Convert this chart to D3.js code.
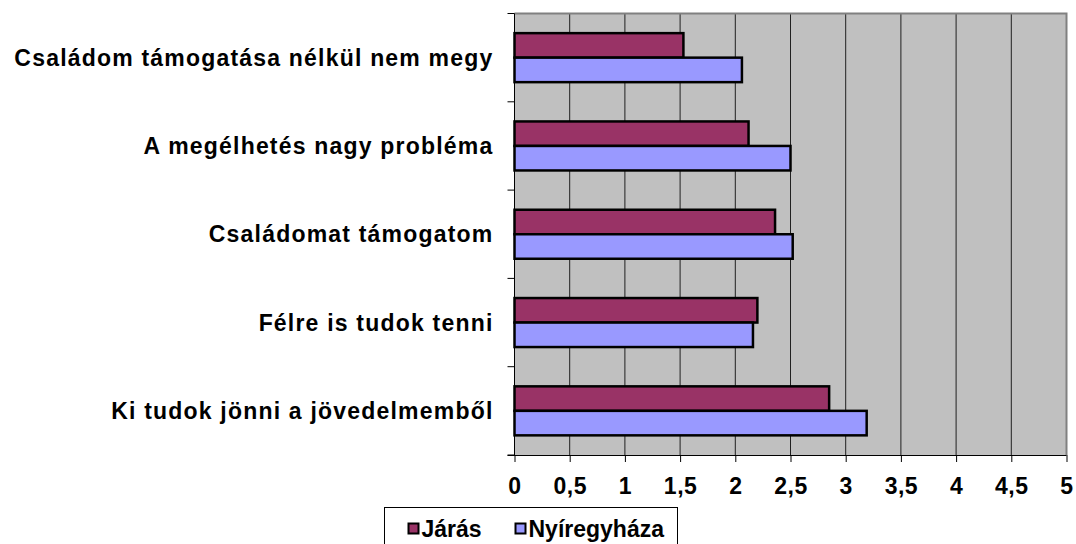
<!DOCTYPE html>
<html>
<head>
<meta charset="utf-8">
<script src="https://cdn.jsdelivr.net/npm/d3@7"></script>
<style>
  body { margin: 0; background: #fff; }
  text { font-family: "Liberation Sans", Arial, sans-serif; font-weight: bold; }
</style>
</head>
<body>
<div id="chart"></div>
<script>
// adatok
const kategoriak = [
  "Családom támogatása nélkül nem megy",
  "A megélhetés nagy probléma",
  "Családomat támogatom",
  "Félre is tudok tenni",
  "Ki tudok jönni a jövedelmemből"
]
const sorozatok = ["Járás", "Nyíregyháza"]
const jarasErtekek = [1.53, 2.12, 2.36, 2.20, 2.85]
const nyiregyhazaErtekek = [2.06, 2.50, 2.52, 2.16, 3.19]
const xTickek = [0, 0.5, 1, 1.5, 2, 2.5, 3, 3.5, 4, 4.5, 5]
const szinek = ["#993366", "#9999FF"]

const dataset = kategoriak.map((k, i) => ({
  kategoria: k,
  ertekek: [jarasErtekek[i], nyiregyhazaErtekek[i]]
}))

// dimenziok
const dim = {
  sirina: 1076,
  visina: 544,
  margine: { top: 13.5, right: 10, bottom: 89, left: 514.5 }
}
dim.grSirina = 1066.5 - dim.margine.left
dim.grVisina = 455 - dim.margine.top

const svg = d3.select("#chart").append("svg")
  .attr("width", dim.sirina)
  .attr("height", dim.visina)

const g = svg.append("g")
  .attr("transform", `translate(${dim.margine.left},${dim.margine.top})`)

// skale
const xSkala = d3.scaleLinear().domain([0, 5]).range([0, dim.grSirina])
const ySkala = d3.scaleBand().domain(kategoriak).range([0, dim.grVisina])
const ySub = d3.scaleBand().domain(sorozatok)
  .range([0, ySkala.bandwidth() * 0.555])

// pozadina
g.append("rect")
  .attr("width", dim.grSirina)
  .attr("height", dim.grVisina)
  .attr("fill", "#C0C0C0")

// mreza
g.selectAll(".grid")
  .data(xTickek.slice(1, -1))
  .join("line")
    .attr("x1", d => xSkala(d)).attr("x2", d => xSkala(d))
    .attr("y1", 0).attr("y2", dim.grVisina)
    .attr("stroke", "#202020")
    .attr("stroke-width", 1)

// okvir (gornji i desni rub)
g.append("path")
  .attr("d", `M0,0H${dim.grSirina}V${dim.grVisina}`)
  .attr("fill", "none")
  .attr("stroke", "#808080")
  .attr("stroke-width", 2)

// stupci
const offset = (ySkala.bandwidth() - ySub.range()[1]) / 2
const grupe = g.selectAll(".grupa")
  .data(dataset)
  .join("g")
    .attr("transform", d => `translate(0,${ySkala(d.kategoria) + offset})`)

grupe.selectAll("rect")
  .data(d => d.ertekek.map((v, i) => ({ serija: sorozatok[i], v, i })))
  .join("rect")
    .attr("x", 0)
    .attr("y", d => ySub(d.serija))
    .attr("width", d => xSkala(d.v))
    .attr("height", ySub.bandwidth())
    .attr("fill", d => szinek[d.i])
    .attr("stroke", "#000")
    .attr("stroke-width", 2.5)

// x os
const xOs = g.append("g")
  .attr("transform", `translate(0,${dim.grVisina})`)
  .call(d3.axisBottom(xSkala)
    .tickValues(xTickek)
    .tickSize(7)
    .tickPadding(16)
    .tickFormat(d => String(d).replace(".", ",")))
xOs.select(".domain").attr("stroke", "#000").attr("d", `M-7,0.5H${dim.grSirina}`)
xOs.selectAll(".tick line").attr("stroke", "#000")
xOs.selectAll("text")
  .attr("font-size", 23)
  .attr("fill", "#000")
  .style("font-family", "'Liberation Sans', Arial, sans-serif")
  .style("font-weight", "bold")
  .style("letter-spacing", "0.5px")

// y os
const yGranice = kategoriak.map(k => ySkala(k)).concat([dim.grVisina])
g.append("line")
  .attr("x1", 0).attr("x2", 0)
  .attr("y1", 0).attr("y2", dim.grVisina)
  .attr("stroke", "#000")
g.selectAll(".ytick")
  .data(yGranice)
  .join("line")
    .attr("x1", -7).attr("x2", 0)
    .attr("y1", d => d).attr("y2", d => d)
    .attr("stroke", "#000")

g.selectAll(".ylabel")
  .data(kategoriak)
  .join("text")
    .attr("x", -21)
    .attr("y", d => ySkala(d) + ySkala.bandwidth() / 2)
    .attr("dy", "0.35em")
    .attr("text-anchor", "end")
    .attr("font-size", 23)
    .style("letter-spacing", "1.2px")
    .text(d => d)

// legenda
const leg = svg.append("g").attr("transform", "translate(384.5,507.5)")
leg.append("rect")
  .attr("width", 293)
  .attr("height", 45)
  .attr("fill", "#fff")
  .attr("stroke", "#000")
  .attr("stroke-width", 1)
const legX = [24, 131]
sorozatok.forEach((s, i) => {
  leg.append("rect")
    .attr("x", legX[i]).attr("y", 16)
    .attr("width", 10).attr("height", 10)
    .attr("fill", szinek[i])
    .attr("stroke", "#000")
    .attr("stroke-width", 2)
  leg.append("text")
    .attr("x", legX[i] + 13)
    .attr("y", 21)
    .attr("dy", "0.35em")
    .attr("font-size", 23)
    .text(s)
})
</script>
</body>
</html>
